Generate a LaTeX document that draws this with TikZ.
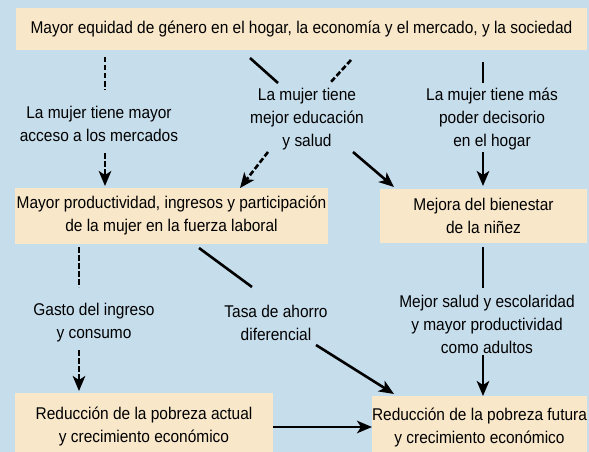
\documentclass[tikz,border=0pt]{standalone}
\usepackage{fontspec}
\setmainfont[FakeStretch=0.91]{Liberation Sans}
\usetikzlibrary{arrows.meta}
\definecolor{bgc}{RGB}{198,221,236}
\definecolor{boxc}{RGB}{248,231,201}
\begin{document}
\begin{tikzpicture}[x=1pt,y=-1pt,
  txt/.style={align=center, font=\fontsize{17}{23}\selectfont, text=black, inner sep=0pt},
  box/.style={txt, fill=boxc, outer sep=0pt},
  conn/.style={line width=2.6pt},
  dconn/.style={line width=2.6pt, dash pattern=on 5.5pt off 2.5pt},
  tipped/.style={-{Stealth[length=15pt,width=12.5pt,inset=4pt]}}]
\fill[bgc] (0,0) rectangle (589,452);
\useasboundingbox (0,0) rectangle (589,452);
% boxes
\node[box, minimum width=571pt, minimum height=42pt] (top) at (301.5,29) {Mayor equidad de género en el hogar, la economía y el mercado, y la sociedad};
\node[box, minimum width=313pt, minimum height=56pt] (prod) at (171.5,215.5) {Mayor productividad, ingresos y participación\\de la mujer en la fuerza laboral};
\node[box, minimum width=207pt, minimum height=54pt] (nin) at (483.5,216) {Mejora del bienestar\\de la niñez};
\node[box, minimum width=258pt, minimum height=67pt] (act) at (144,426.5) {Reducción de la pobreza actual\\y crecimiento económico};
\node[box, minimum width=215pt, minimum height=64pt] (fut) at (479.5,428) {Reducción de la pobreza futura\\y crecimiento económico};
% labels
\node[txt] (l1) at (99,123.5) {La mujer tiene mayor\\acceso a los mercados};
\node[txt] (l2) at (307,119.5) {La mujer tiene\\mejor educación\\y salud};
\node[txt] (l3) at (492,119.5) {La mujer tiene más\\poder decisorio\\en el hogar};
\node[txt] (l4) at (94,322.5) {Gasto del ingreso\\y consumo};
\node[txt] (l5) at (276,322.5) {Tasa de ahorro\\diferencial};
\node[txt] (l6) at (487,324) {Mejor salud y escolaridad\\y mayor productividad\\como adultos};
% connector end points
\coordinate (a1) at (105,57);  \coordinate (a2) at (105,90);
\coordinate (a3) at (105,153); \coordinate (a4) at (105,186);
\coordinate (b1) at (250,58);  \coordinate (b2) at (278,83);
\coordinate (b3) at (353,152); \coordinate (b4) at (394,187);
\coordinate (c1) at (351,60);  \coordinate (c2) at (330,83);
\coordinate (c3) at (268,152); \coordinate (c4) at (240,188);
\coordinate (d1) at (483,62);  \coordinate (d2) at (483,83);
\coordinate (d3) at (483,152); \coordinate (d4) at (483,186);
\coordinate (e1) at (79,247);  \coordinate (e2) at (79,287);
\coordinate (e3) at (79,350);  \coordinate (e4) at (79,391);
\coordinate (f1) at (199,248); \coordinate (f2) at (252,287);
\coordinate (f3) at (316,345); \coordinate (f4) at (394,394);
\coordinate (g1) at (483,247); \coordinate (g2) at (483,288);
\coordinate (g3) at (483,355); \coordinate (g4) at (483,396);
% connectors
\draw[dconn] (a1) -- (a2);
\draw[dconn,tipped] (a3) -- (a4);
\draw[conn] (b1) -- (b2);
\draw[conn,tipped] (b3) -- (b4);
\draw[dconn] (c1) -- (c2);
\draw[dconn,tipped] (c3) -- (c4);
\draw[conn] (d1) -- (d2);
\draw[conn,tipped] (d3) -- (d4);
\draw[dconn] (e1) -- (e2);
\draw[dconn,tipped] (e3) -- (e4);
\draw[conn] (f1) -- (f2);
\draw[conn,tipped] (f3) -- (f4);
\draw[conn] (g1) -- (g2);
\draw[conn,tipped] (g3) -- (g4);
\draw[conn,tipped] (act.east |- 0,427) -- (fut.west |- 0,427);
\end{tikzpicture}
\end{document}
